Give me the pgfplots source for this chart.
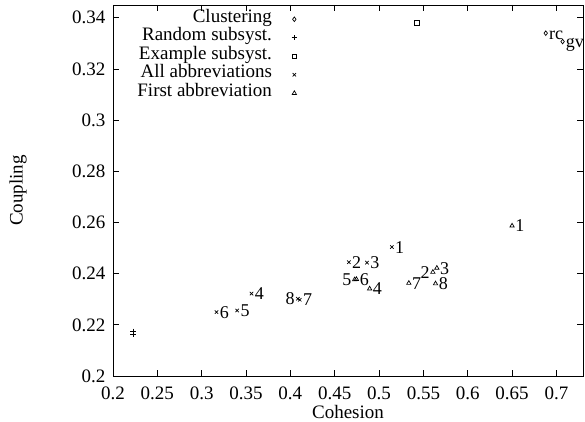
\documentclass[border=0pt]{standalone}
\usepackage{fontspec}
\setmainfont{Liberation Serif}
\usepackage{pgfplots}
\pgfplotsset{compat=1.18}

\newcommand{\fs}{\fontsize{19}{22}\selectfont}
\newcommand{\fl}{\fontsize{18}{21}\selectfont}

\begin{document}
\begin{tikzpicture}
\begin{axis}[
  at={(0,0)}, anchor=south west,
  scale only axis,
  width=470pt, height=371pt,
  xmin=0.2, xmax=0.73,
  ymin=0.2, ymax=0.345,
  xtick={0.2,0.25,0.3,0.35,0.4,0.45,0.5,0.55,0.6,0.65,0.7},
  ytick={0.2,0.22,0.24,0.26,0.28,0.3,0.32,0.34},
  tick pos=both, tick align=inside,
  major tick length=6pt,
  axis line style={line width=0.9pt},
  every tick/.style={line width=0.9pt, black},
  scaled ticks=false,
  /pgf/number format/assume math mode=true,
  xticklabel style={/pgf/number format/.cd, fixed, precision=2, /tikz/.cd, yshift=-7pt},
  yticklabel style={/pgf/number format/.cd, fixed, precision=2, /tikz/.cd, xshift=-4pt},
  tick label style={font=\fs},
  label style={font=\fs},
  xlabel={Cohesion},
  ylabel={Coupling},
  xlabel style={at={(axis description cs:0.5,-0.096)}, anchor=center},
  ylabel style={at={(axis description cs:-0.202,0.5)}, anchor=center},
  legend plot pos=right,
  legend cell align=right,
  legend style={draw=none, fill=none, font=\fs, inner sep=0pt,
    at={(axis description cs:0.404,0.987)}, anchor=north east,
    column sep=10pt, row sep=0pt,
    nodes={inner sep=0pt, text height=12pt, text depth=6.5pt}},
  every axis plot/.append style={only marks, black, line width=0.7pt,
    legend image code/.code={
      \path (0pt,0pt) (20pt,0pt);
      \draw[##1] plot[only marks] coordinates {(12pt,0pt)};
    }},
  every node near coord/.style={anchor=base west, inner sep=0pt,
    xshift=3pt, yshift=-6pt, font=\fl, black},
]
% Clustering
\addplot[mark=diamond, mark size=2.3pt, nodes near coords, point meta=explicit symbolic]
  table[row sep=\\, meta=l] {x y l\\ 0.688 0.3340 rc\\ 0.707 0.3307 gv\\};
% Random subsystems
\addplot[mark=+, mark size=2.6pt]
  table[row sep=\\] {x y\\ 0.2225 0.2175\\ 0.2225 0.2164\\};
% Example subsystem
\addplot[mark=square, mark size=2.4pt]
  table[row sep=\\] {x y\\ 0.5423 0.3380\\};
% All abbreviations
\addplot[mark=x, mark size=2.4pt, nodes near coords, point meta=explicit symbolic]
  table[row sep=\\, meta=l] {x y l\\
    0.5145 0.2504 1\\ 0.4660 0.2445 2\\ 0.4864 0.2443 3\\ 0.3562 0.2322 4\\
    0.3400 0.2256 5\\ 0.3167 0.2250 6\\ 0.4106 0.2298 7\\};
\addplot[mark=x, mark size=2.4pt, forget plot, nodes near coords, point meta=explicit symbolic,
  every node near coord/.append style={anchor=base east, xshift=-6pt}]
  table[row sep=\\, meta=l] {x y l\\ 0.4085 0.2302 8\\};
% First abbreviation
\addplot[mark=triangle, mark size=2.5pt, nodes near coords, point meta=explicit symbolic]
  table[row sep=\\, meta=l] {x y l\\
    0.6500 0.2587 1\\ 0.5652 0.2422 3\\ 0.4894 0.2341 4\\ 0.4745 0.2378 6\\
    0.5336 0.2363 7\\ 0.5637 0.2361 8\\};
\addplot[mark=triangle, mark size=2.5pt, forget plot, nodes near coords, point meta=explicit symbolic,
  every node near coord/.append style={anchor=base east, xshift=-6pt}]
  table[row sep=\\, meta=l] {x y l\\ 0.5607 0.2406 2\\ 0.4725 0.2377 5\\};
\legend{Clustering, Random subsyst., Example subsyst., All abbreviations, First abbreviation}
\end{axis}
\pgfresetboundingbox
\path (-113pt,-45pt) rectangle (472pt,376pt);
\end{tikzpicture}
\end{document}
